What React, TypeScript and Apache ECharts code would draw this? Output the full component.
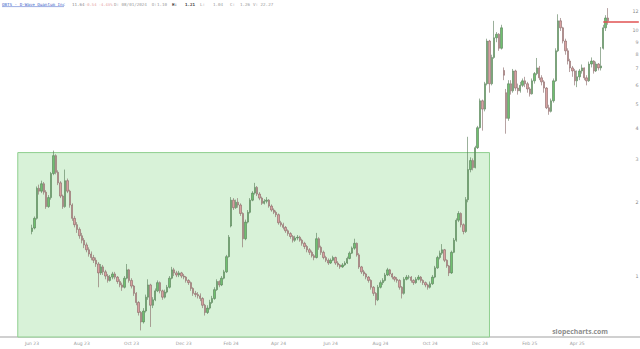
import { useEffect, useRef } from "react";
import * as echarts from "echarts";

// ---------- data ----------
const headerParts = [
  { text: "QBTS - D-Wave Quantum Inc", kind: "title" },
  { text: "11.64", kind: "num" },
  { text: "-0.54 -4.43%", kind: "chg" },
  { text: "D: 08/01/2024  O:", kind: "plain" },
  { text: "1.10", kind: "plain" },
  { text: "H:", kind: "bold" },
  { text: "1.21", kind: "bold" },
  { text: "L:", kind: "plain" },
  { text: "1.04", kind: "plain" },
  { text: "C:", kind: "plain" },
  { text: "1.26", kind: "plain" },
  { text: "V: 22.27", kind: "plain" },
];
const headerX = [2, 72, 85, 114, 157, 172, 185, 200, 213, 230, 240, 253];

const watermark = "slopecharts.com";
const monthNames = ["Jan", "Feb", "Mar", "Apr", "May", "Jun", "Jul", "Aug", "Sep", "Oct", "Nov", "Dec"];
const yTickValues = [1, 2, 3, 4, 5, 6, 7, 8, 9, 10, 12];
const yMin = 0.564;
const yMax = 13.38;
const lastPrice = 10.88;
const boxTop = 3.19;
const boxStartDate = "2023-05-15";
const boxEndDate = "2024-12-11";
const firstDataDate = "2023-06-01";
const padBefore = 13;
const padAfter = 13;
const marketHolidays = [
  "2023-05-29", "2023-06-19", "2023-07-04", "2023-09-04", "2023-11-23", "2023-12-25",
  "2024-01-01", "2024-01-15", "2024-02-19", "2024-03-29", "2024-05-27", "2024-06-19",
  "2024-07-04", "2024-09-02", "2024-11-28", "2024-12-25", "2025-01-01", "2025-01-09",
  "2025-01-20", "2025-02-17", "2025-04-18", "2025-05-26", "2025-06-19", "2025-07-04",
];

// each candle = 2 trading days: [open, close, low, high]
const candles2023 = [
  [1.52,1.57,1.48,1.62],[1.57,1.72,1.55,1.75],[1.72,2.28,1.70,2.32],[2.28,2.22,2.15,2.36],
  [2.22,2.38,2.18,2.45],[2.38,2.20,2.15,2.42],[2.20,1.92,1.88,2.24],[1.92,2.09,1.90,2.14],
  [2.09,2.62,2.05,2.66],[2.62,3.10,2.58,3.25],[3.10,2.65,2.60,3.14],[2.65,2.40,2.35,2.70],
  [2.40,2.12,2.08,2.44],[2.12,1.92,1.88,2.15],[1.92,2.45,1.90,2.72],[2.45,2.22,2.18,2.50],
  [2.22,1.95,1.90,2.25],[1.95,1.72,1.68,1.98],[1.72,1.62,1.58,1.76],[1.62,1.55,1.50,1.66],
  [1.55,1.46,1.42,1.58],[1.46,1.40,1.36,1.50],[1.40,1.34,1.30,1.43],[1.34,1.28,1.25,1.37],
  [1.28,1.23,1.20,1.31],[1.23,1.19,1.16,1.26],[1.19,1.16,1.13,1.22],[1.16,1.12,1.09,1.19],
  [1.12,1.03,0.90,1.14],[1.03,1.09,1.01,1.12],[1.09,1.04,1.01,1.11],[1.04,1.00,0.97,1.06],
  [1.00,0.96,0.94,1.02],[0.96,0.99,0.95,1.01],[0.99,1.02,0.97,1.04],[1.02,0.99,0.97,1.04],
  [0.99,0.95,0.93,1.00],[0.95,0.92,0.90,0.97],[0.92,0.90,0.87,0.94],[0.90,0.98,0.89,1.00],
  [0.98,1.06,0.97,1.12],[1.06,0.96,0.94,1.07],[0.96,0.91,0.89,0.98],[0.91,0.85,0.83,0.92],
  [0.85,0.78,0.76,0.86],[0.78,0.71,0.69,0.79],[0.71,0.65,0.60,0.72],[0.65,0.72,0.64,0.74],
  [0.72,0.82,0.71,0.84],[0.82,0.92,0.80,0.97],[0.92,0.76,0.62,0.93],[0.76,0.80,0.74,0.82],
  [0.80,0.87,0.79,0.89],[0.87,0.94,0.86,0.96],[0.94,0.87,0.85,0.95],[0.87,0.82,0.80,0.88],
  [0.82,0.86,0.81,0.88],[0.86,0.90,0.85,0.92],[0.90,0.98,0.89,1.00],[0.98,1.06,0.97,1.09],
  [1.06,1.03,1.00,1.08],[1.03,1.01,0.99,1.05],[1.01,1.03,0.99,1.05],[1.03,1.00,0.98,1.04],
  [1.00,0.99,0.97,1.02],[0.99,0.96,0.94,1.00],[0.96,0.94,0.92,0.97],[0.94,0.89,0.87,0.95],
  [0.89,0.85,0.83,0.90],[0.85,0.84,0.82,0.87],[0.84,0.83,0.81,0.86],[0.83,0.81,0.79,0.85],
  [0.81,0.76,0.74,0.82],[0.76,0.71,0.69,0.77],
];
const candles2024 = [
  [0.71,0.74,0.70,0.76],[0.74,0.78,0.73,0.80],[0.78,0.81,0.77,0.83],[0.81,0.88,0.80,0.90],
  [0.88,0.95,0.87,0.97],[0.95,0.92,0.90,0.96],[0.92,0.98,0.91,1.00],[0.98,1.04,0.97,1.06],
  [1.04,1.20,1.03,1.22],[1.20,1.44,1.19,1.47],[1.60,2.04,1.58,2.10],[2.04,1.90,1.86,2.08],
  [1.90,2.00,1.88,2.05],[2.00,1.95,1.90,2.08],[1.95,1.80,1.76,1.98],[1.80,1.42,1.31,1.82],
  [1.42,1.66,1.40,1.70],[1.66,1.82,1.64,1.86],[1.82,2.04,1.80,2.08],[2.04,2.18,2.02,2.22],
  [2.18,2.30,2.15,2.40],[2.30,2.16,2.12,2.33],[2.16,2.08,2.04,2.20],[2.08,1.98,1.95,2.11],
  [1.98,2.02,1.96,2.06],[2.02,2.04,1.98,2.10],[2.04,1.93,1.90,2.06],[1.93,1.86,1.83,1.96],
  [1.86,1.82,1.79,1.89],[1.82,1.78,1.74,1.85],[1.78,1.65,1.62,1.80],[1.65,1.62,1.59,1.68],
  [1.62,1.58,1.55,1.65],[1.58,1.53,1.50,1.60],[1.53,1.49,1.46,1.55],[1.49,1.45,1.42,1.51],
  [1.45,1.40,1.37,1.47],[1.40,1.43,1.38,1.46],[1.43,1.44,1.40,1.47],[1.44,1.40,1.38,1.46],
  [1.40,1.36,1.33,1.42],[1.36,1.32,1.29,1.38],[1.32,1.28,1.25,1.34],[1.28,1.25,1.22,1.30],
  [1.25,1.21,1.19,1.27],[1.21,1.19,1.16,1.23],[1.19,1.42,1.18,1.50],[1.42,1.31,1.28,1.44],
  [1.31,1.25,1.22,1.33],[1.25,1.19,1.17,1.27],[1.19,1.16,1.14,1.21],[1.16,1.13,1.11,1.18],
  [1.13,1.16,1.12,1.18],[1.16,1.19,1.15,1.21],[1.19,1.13,1.11,1.20],[1.13,1.11,1.09,1.15],
  [1.11,1.09,1.07,1.12],[1.09,1.11,1.08,1.13],[1.11,1.13,1.10,1.15],[1.13,1.18,1.12,1.20],
  [1.18,1.24,1.17,1.26],[1.24,1.30,1.23,1.32],[1.30,1.36,1.28,1.42],[1.36,1.22,1.20,1.37],
  [1.22,1.09,1.07,1.24],[1.09,1.04,1.02,1.10],[1.04,1.02,1.00,1.06],[1.02,0.99,0.97,1.03],
  [0.99,0.96,0.94,1.00],[0.96,0.90,0.88,0.97],[0.90,0.85,0.83,0.91],[0.85,0.80,0.76,0.86],
  [0.80,0.90,0.79,0.92],[0.90,0.94,0.89,0.96],[0.94,0.96,0.92,0.98],[0.96,1.01,0.95,1.03],
  [1.01,1.06,1.00,1.08],[1.06,1.02,1.00,1.07],[1.02,0.99,0.97,1.03],[0.99,0.97,0.95,1.00],
  [0.97,0.96,0.94,0.99],[0.96,0.90,0.88,0.97],[0.90,0.85,0.81,0.91],[0.85,0.97,0.84,0.99],
  [0.97,0.99,0.96,1.01],[0.99,0.99,0.97,1.01],[0.99,0.96,0.94,1.00],[0.96,0.94,0.92,0.97],
  [0.94,0.97,0.93,0.99],[0.97,0.99,0.96,1.01],[0.99,0.96,0.94,1.00],[0.96,0.94,0.92,0.97],
  [0.94,0.92,0.90,0.95],[0.92,0.90,0.88,0.93],[0.90,0.93,0.89,0.95],[0.93,0.99,0.92,1.01],
  [0.99,1.08,0.98,1.10],[1.08,1.19,1.07,1.21],[1.19,1.24,1.17,1.27],[1.24,1.28,1.22,1.35],
  [1.28,1.16,1.14,1.29],[1.16,1.10,1.08,1.17],[1.10,1.03,1.00,1.11],[1.03,1.25,1.02,1.27],
  [1.25,1.40,1.24,1.43],[1.40,1.69,1.38,1.72],[1.69,1.80,1.66,1.84],[1.80,1.62,1.58,1.82],
  [1.62,1.52,1.48,1.64],[1.52,2.05,1.50,2.10],[2.05,2.72,2.00,3.70],[2.72,2.96,2.65,3.05],
  [2.96,2.77,2.70,3.02],[2.77,3.34,2.75,3.40],[3.34,4.03,3.30,4.10],[4.03,5.19,4.00,5.30],
  [5.19,4.80,3.92,5.25],[4.80,6.09,4.70,6.20],[6.09,9.10,6.00,9.30],[9.10,6.09,5.60,9.20],
  [6.09,7.80,6.00,8.00],[7.80,9.38,7.70,11.00],[9.38,9.70,9.00,9.90],[9.70,8.50,8.30,9.80],
  [8.50,10.30,8.40,10.60],[6.90,6.60,6.30,7.10],
];
const candles2025 = [
  [5.60,4.40,3.81,5.80],[4.40,6.09,4.30,6.30],[6.09,5.70,5.50,6.30],[5.70,6.87,5.60,7.00],
  [6.87,5.85,5.70,6.95],[5.85,5.70,5.50,6.10],[5.70,6.00,5.60,6.20],[6.00,6.26,5.90,6.40],
  [6.26,6.09,5.90,6.50],[6.09,5.80,5.60,6.20],[5.80,5.54,5.40,5.90],[5.54,6.26,5.50,6.40],
  [6.26,6.70,6.10,6.80],[6.70,7.07,6.60,7.76],[7.07,6.44,6.30,7.20],[6.44,6.20,6.00,6.60],
  [6.20,5.85,5.60,6.30],[5.85,4.86,4.80,5.90],[4.86,4.70,4.55,5.00],[4.70,5.19,4.65,5.30],
  [5.19,6.26,5.10,6.40],[6.26,8.30,6.20,8.50],[8.30,11.00,8.20,11.70],[11.00,10.30,10.00,11.30],
  [10.30,9.10,8.90,10.40],[9.10,8.30,8.00,9.30],[8.30,7.54,7.30,8.50],[7.54,7.07,6.80,7.70],
  [7.07,6.87,6.50,7.20],[6.87,6.26,6.00,7.00],[6.26,6.50,5.90,6.90],[6.50,6.87,6.30,7.00],
  [6.87,7.07,6.70,7.30],[7.07,6.44,6.30,7.10],[6.44,6.26,6.00,6.60],[6.26,7.33,6.20,7.50],
  [7.33,7.54,7.10,7.80],[7.54,6.87,6.70,7.60],[6.87,7.33,6.80,7.50],[7.33,7.07,6.90,7.40],
  [7.07,7.20,6.90,8.60],[8.50,10.30,8.40,10.60],[10.30,11.30,10.00,11.60],[11.30,11.00,10.60,12.40],
];

// ---------- derived ----------
const candles = [...candles2023, ...candles2024, ...candles2025];

function buildTradingDays(from: string, to: string): string[] {
  const out: string[] = [];
  const hol = new Set(marketHolidays);
  const d = new Date(from + "T00:00:00Z");
  const end = new Date(to + "T00:00:00Z");
  while (d <= end) {
    const wd = d.getUTCDay();
    const s = d.toISOString().slice(0, 10);
    if (wd !== 0 && wd !== 6 && !hol.has(s)) out.push(s);
    d.setUTCDate(d.getUTCDate() + 1);
  }
  return out;
}
const tradingDays = buildTradingDays("2023-04-03", "2025-08-29");
const startIdx = tradingDays.indexOf(firstDataDate);
const slotCount = padBefore + candles.length + padAfter;
const categories: string[] = Array.from({ length: slotCount }, (_, i) => tradingDays[startIdx + 2 * (i - padBefore)]);

function isLabelSlot(i: number): boolean {
  if (i < padBefore || i >= padBefore + candles.length) return false;
  const m = +categories[i].slice(5, 7);
  const pm = +categories[i - 1].slice(5, 7);
  return m !== pm && m % 2 === 0;
}
const boxStart = categories.findIndex((c) => c >= boxStartDate);
const boxEnd = categories.findIndex((c) => c >= boxEndDate);

export default function App() {
  const ref = useRef<HTMLDivElement>(null);
  useEffect(() => {
    if (!ref.current) return;
    const chart = echarts.init(ref.current, null, { renderer: "svg" });
    const styleFor = (kind: string) => {
      if (kind === "title") return { fill: "#3d5fc9", fontWeight: "normal", fontSize: 4.2 };
      if (kind === "num") return { fill: "#8a8a8a", fontWeight: "normal", fontSize: 4.2 };
      if (kind === "chg") return { fill: "#e39a9a", fontWeight: "normal", fontSize: 3.8 };
      if (kind === "bold") return { fill: "#444", fontWeight: "bold", fontSize: 4.2 };
      return { fill: "#9a9a9a", fontWeight: "normal", fontSize: 4.2 };
    };
    const headerEls: any[] = headerParts.map((p, i) => ({
      type: "text",
      x: headerX[i],
      y: 4,
      silent: true,
      style: {
        text: p.text,
        fontFamily: "DejaVu Sans Mono",
        verticalAlign: "middle",
        align: "left",
        ...styleFor(p.kind),
      },
    }));
    headerEls.push({
      type: "line",
      silent: true,
      shape: { x1: 2, y1: 6.6, x2: 64, y2: 6.6 },
      style: { stroke: "#3d5fc9", lineWidth: 0.5 },
    });
    headerEls.push({
      type: "text",
      right: 32,
      top: 328,
      silent: true,
      style: {
        text: watermark,
        fontFamily: "Open Sans",
        fontSize: 6.8,
        fontWeight: "bold",
        fill: "#8c8c8c",
      },
    });

    chart.setOption({
      animation: false,
      backgroundColor: "#ffffff",
      grid: { left: 0, right: 0, top: 0, bottom: 12, containLabel: false, outerBoundsMode: "none" },
      xAxis: {
        type: "category",
        data: categories,
        boundaryGap: true,
        axisLine: { show: true, onZero: false, lineStyle: { color: "#d0d0d0", width: 2 } },
        axisTick: { show: false },
        splitLine: { show: false },
        axisLabel: {
          interval: (i: number) => isLabelSlot(i),
          formatter: (v: string) => monthNames[+v.slice(5, 7) - 1] + " " + v.slice(2, 4),
          fontSize: 4.5,
          color: "#9a9a9a",
          margin: 4,
          fontFamily: "DejaVu Sans",
        },
      },
      yAxis: [
        {
          type: "log",
          min: yMin,
          max: yMax,
          axisLine: { show: false },
          axisTick: { show: false },
          axisLabel: { show: false },
          splitLine: { show: false },
        },
        {
          type: "value",
          position: "right",
          min: Math.log10(yMin),
          max: Math.log10(yMax),
          axisLine: { show: false, onZero: false },
          axisTick: { show: false },
          splitLine: { show: false },
          axisLabel: {
            inside: true,
            margin: 1.5,
            customValues: yTickValues.map((v) => Math.log10(v)),
            formatter: (v: number) => String(Math.round(Math.pow(10, v))),
            fontSize: 4.8,
            color: "#8a8a8a",
            fontFamily: "DejaVu Sans",
          },
        },
      ],
      series: [
        {
          type: "candlestick",
          yAxisIndex: 0,
          z: 3,
          barWidth: "78%",
          encode: { x: 0, y: [1, 2, 3, 4] },
          data: candles.map((c, i) => [padBefore + i, ...c]),
          itemStyle: {
            color: "#6fc06f",
            color0: "#d9a0a0",
            borderColor: "#587a58",
            borderColor0: "#876565",
            borderWidth: 0.6,
          },
          markArea: {
            silent: true,
            itemStyle: { color: "#d8f2d8", borderColor: "#8fcf8f", borderWidth: 1 },
            data: [[{ xAxis: boxStart, yAxis: boxTop }, { xAxis: boxEnd, yAxis: yMin }]],
          },
        },
        {
          type: "line",
          yAxisIndex: 0,
          z: 4,
          symbol: "none",
          silent: true,
          lineStyle: { color: "#e05252", width: 1.3 },
          data: [
            [padBefore + candles.length - 3, lastPrice],
            [slotCount - 1, lastPrice],
          ],
        },
      ],
      graphic: headerEls,
    });
    return () => chart.dispose();
  }, []);
  return <div ref={ref} style={{ position: "fixed", left: 0, top: 0, width: 640, height: 349 }} />;
}
